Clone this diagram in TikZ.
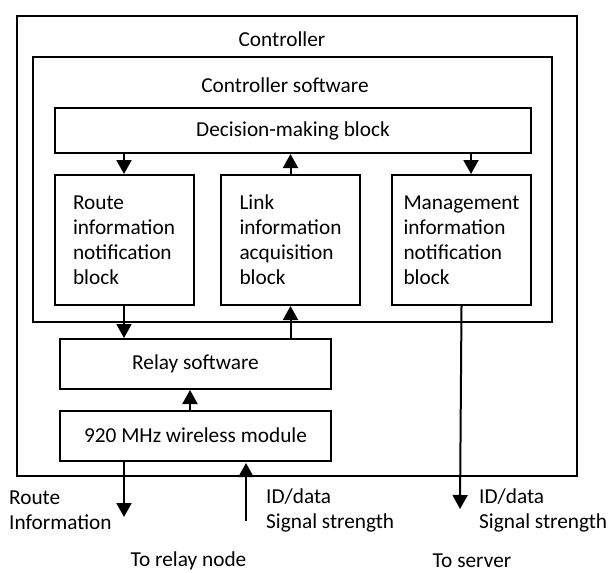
\documentclass[tikz,border=0pt]{standalone}
\usepackage{fontspec}
\setmainfont{Carlito}
\usetikzlibrary{arrows.meta,positioning}
\tikzset{
  frame/.style={draw,line width=2pt,inner sep=0pt},
  blk/.style={frame,align=left,minimum width=139pt,minimum height=130pt},
  wide/.style={frame,minimum width=271pt,minimum height=50pt},
  flow/.style={-{Triangle[length=14pt,width=15pt]},line width=2pt},
  lbl/.style={inner sep=0pt,align=left},
}

\begin{document}
\begin{tikzpicture}[x=1pt,y=-1pt,font=\fontsize{21.3}{25}\selectfont]
  \useasboundingbox (0,0) rectangle (609,572);
  % frames
  \node[frame,minimum width=560pt,minimum height=460pt] (ctrl) at (297,246) {};
  \node[lbl] (ctrllbl) at (282,39) {Controller};
  \node[frame,minimum width=519pt,minimum height=265pt] (csw) at (292.5,189.5) {};
  \node[lbl] (cswlbl) at (285,85) {Controller software};
  % controller software blocks
  \node[frame,minimum width=476pt,minimum height=45pt] (dm) at (293,130.5) {Decision-making block};
  \node[blk] (route) at (124,240) {Route\\information\\notification\\block};
  \node[blk] (link) at (290.5,240) {Link\\information\\acquisition\\block};
  \node[blk] (mgmt) at (461.5,240) {Management\\information\\notification\\block};
  % relay side
  \node[wide] (relay) at (195.5,364) {Relay software};
  \node[wide] (wless) at (195.5,435.5) {920 MHz wireless module};
  % free ends
  \coordinate (riend) at (124,517);
  \coordinate (idsrc) at (246,521);
  \coordinate (idend) at (246,463);
  \coordinate (srvend) at (460,509);
  % arrows
  \draw[flow] (dm.south -| route) -- (route.north);
  \draw[flow] (link.north) -- (link.north |- dm.south);
  \draw[flow] ([xshift=9.5pt]dm.south -| mgmt) -- ([xshift=9.5pt]mgmt.north);
  \draw[flow] (route.south) -- (route.south |- relay.north);
  \draw[flow] (relay.north -| link) -- (link.south);
  \draw[flow] ([xshift=-5.5pt]wless.north) -- ([xshift=-5.5pt]relay.south);
  \draw[flow] (wless.south -| route) -- (riend);
  \draw[flow] (idsrc) -- (idend);
  \draw[flow] (mgmt.south) -- (srvend);
  % outside labels
  \node[lbl,anchor=west] (rilbl) at (9,510.5) {Route\\Information};
  \node[lbl,anchor=west] (idlbl) at (266,510.5) {ID/data\\Signal strength};
  \node[lbl,anchor=west] (srvlbl) at (479,510.5) {ID/data\\Signal strength};
  \node[lbl] (torelay) at (188.5,561) {To relay node};
  \node[lbl] (toserver) at (472,561) {To server};
\end{tikzpicture}
\end{document}
